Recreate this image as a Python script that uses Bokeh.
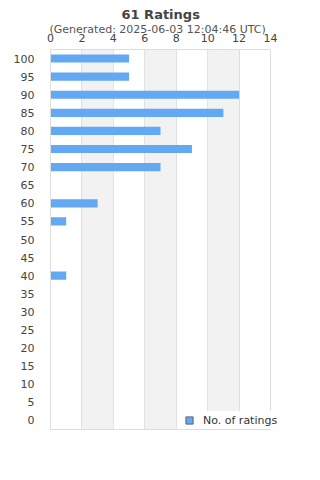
from bokeh.plotting import figure
from bokeh.models import (FactorRange, Range1d, Title, Legend, LegendItem, FixedTicker,
                          LinearAxis, BoxAnnotation)
from bokeh.embed import file_html
from bokeh.resources import INLINE

scores = ["0", "5", "10", "15", "20", "25", "30", "35", "40", "45", "50",
          "55", "60", "65", "70", "75", "80", "85", "90", "95", "100"]
counts = [0, 0, 0, 0, 0, 0, 0, 0, 1, 0, 0,
          1, 3, 0, 7, 9, 7, 11, 12, 5, 5]
x_ticks = [0, 2, 4, 6, 8, 10, 12, 14]
x_max = 14
series_name = "No. of ratings"
title_text = "61 Ratings"
subtitle_text = "(Generated: 2025-06-03 12:04:46 UTC)"

FONT = "DejaVu Sans"
BAR = "#62a8f2"
BORDER = "#dddddd"

# frame is a bit wider than the 0..14 area so that the legend may overhang it
p = figure(width=320, height=480, output_backend="svg", toolbar_location=None,
           y_range=FactorRange(factors=scores), x_range=Range1d(0, x_max * 236 / 220),
           x_axis_location="above", frame_width=236, frame_height=380,
           min_border_left=50, min_border_right=34, min_border_bottom=50, min_border_top=0)

# alternating bands between ticks
for i in range(1, len(x_ticks) - 1, 2):
    p.add_layout(BoxAnnotation(left=x_ticks[i], right=x_ticks[i + 1], fill_color="#f2f2f2",
                               fill_alpha=1.0, line_color=None, level="underlay"))

r = p.hbar(y=scores, right=counts, height=0.45, fill_color=BAR, line_color=None)

p.title.text = title_text
p.title.text_font = FONT
p.title.text_font_size = "13px"
p.title.text_font_style = "bold"
p.title.text_color = "#444444"
p.title.align = "left"
p.title.offset = 71
p.title.standoff = 9
sub = Title(text=subtitle_text, text_font=FONT, text_font_size="11px",
            text_font_style="normal", text_color="#555555", align="left", standoff=-11,
            offset=-1)
p.add_layout(sub, "above")

xa = p.xaxis[0]
xa.ticker = FixedTicker(ticks=x_ticks)
xa.bounds = (0, x_max)
xa.axis_line_color = BORDER
xa.major_tick_line_color = None
xa.minor_tick_line_color = None
xa.major_label_text_font = FONT
xa.major_label_text_font_size = "11px"
xa.major_label_text_color = "#444444"
xa.major_label_standoff = 2

xb = LinearAxis(bounds=(0, x_max), ticker=FixedTicker(ticks=[]), axis_line_color=BORDER,
                major_tick_line_color=None, minor_tick_line_color=None,
                major_label_text_font_size="0px")
p.add_layout(xb, "below")

ya = p.yaxis[0]
ya.axis_line_color = BORDER
ya.major_tick_line_color = None
ya.major_label_text_font = FONT
ya.major_label_text_font_size = "11px"
ya.major_label_text_color = "#444444"
ya.major_label_standoff = 10

p.xgrid.ticker = FixedTicker(ticks=x_ticks)
p.xgrid.grid_line_color = BORDER
p.ygrid.grid_line_color = None
p.outline_line_color = None

dummy = p.scatter(x=[float("nan")], y=["0"], marker="square", size=8,
                  fill_color=BAR, line_color="#666666")
legend = Legend(items=[LegendItem(label=series_name, renderers=[dummy])],
                location=(130, 0), label_text_font=FONT, label_text_font_size="11px",
                label_text_color="#333333", border_line_color=None,
                background_fill_color="white", background_fill_alpha=1.0,
                glyph_width=18, glyph_height=18, padding=0, margin=0, spacing=0,
                label_standoff=5)
p.add_layout(legend, "center")

open("out.html", "w").write(file_html(p, INLINE))
